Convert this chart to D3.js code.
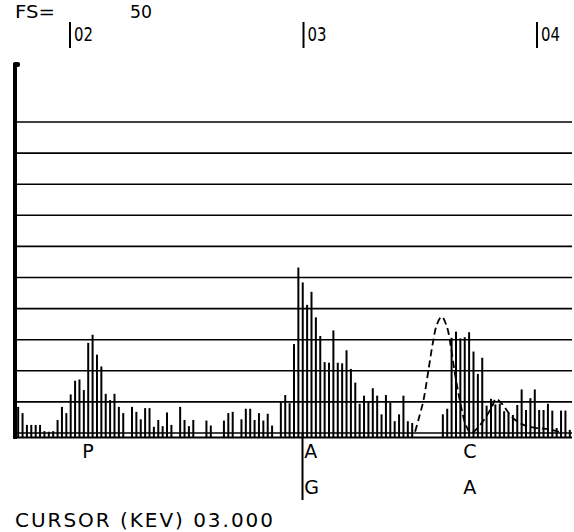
<!DOCTYPE html>
<html>
<head>
<meta charset="utf-8">
<script src="https://cdn.jsdelivr.net/npm/d3@7"></script>
<style>
  body { margin: 0; background: #fff; }
  text { font-family: "DejaVu Sans", sans-serif; fill: #000; }
</style>
</head>
<body>
<script>
const width = 574;
const height = 532;

// full scale
const fullScale = 50;

// spectrum channels: first channel energy and keV per channel
const chStart = 1.778;
const chStep = 0.01875;
const counts = [
  4.2, 3.2, 1.3, 1.3, 1.3, 1.3, 0.3, 0.2, 0.3, 2.1,
  4.2, 3.2, 6.2, 8.4, 8.6, 6.9, 14.5, 15.8, 12.6, 10.7,
  6.3, 5.3, 6.3, 4.2, 3.2, 0, 4.2, 3.4, 2.2, 4.0,
  4.0, 1.0, 2.1, 1.1, 3.3, 1.3, 0, 4.2, 2.1, 1.1,
  2.1, 0, 0, 2.0, 1.2, 0, 0, 2.0, 3.2, 3.4,
  0, 2.2, 3.9, 3.9, 2.1, 3.2, 2.0, 3.1, 1.2, 0,
  5.0, 6.1, 4.8, 14.3, 26.6, 24.2, 20.6, 22.7, 18.6, 15.6,
  11.4, 11.3, 16.5, 11.3, 11.2, 13.3, 10.3, 8.1, 4.7, 6.0,
  5.0, 7.2, 6.0, 3.0, 6.1, 4.9, 1.9, 3.0, 6.0, 1.9,
  1.6, 0, 0, 0, 0, 0, 0, 3.0, 3.9, 15.3,
  16.3, 15.2, 15.4, 16.2, 13.1, 9.5, 12.1, 4.4, 5.5, 4.6,
  4.7, 3.5, 3.2, 2.9, 4.5, 7.0, 3.7, 5.6, 7.0, 3.7,
  3.7, 4.7, 3.6, 0.8, 3.6, 3.6, 0.5
];

// grid levels
const gridLevels = [5, 10, 15, 20, 25, 30, 35, 40, 45, 50];

// energy ticks (keV)
const tickKev = [2, 3, 4];
const tickLabels = ['02', '03', '04'];

// fitted (dashed) curve
const fitKev = [3.478, 3.492, 3.514, 3.535, 3.554, 3.571, 3.592, 3.614, 3.631, 3.647,
  3.661, 3.678, 3.695, 3.717, 3.750, 3.778, 3.807, 3.824, 3.850, 3.879,
  3.907, 3.950, 4.000, 4.052, 4.094];
const fitCounts = [0.2, 2.1, 5.3, 10.1, 14.5, 17.4, 18.7, 17.1, 13.9, 9.9,
  6.9, 3.7, 1.3, 0, 1.0, 2.4, 4.2, 5.5, 4.7, 3.2,
  2.1, 1.2, 0.8, 0.6, 0.2];

// element markers
const markerKev = [2.052, 3.003, 3.684];
const markerTop = ['P', 'A', 'C'];
const markerBottom = ['', 'G', 'A'];

const cursorKev = 3.0;
const cursorText = 'CURSOR (KEV) 03.000';

const x = d3.scaleLinear().domain([2, 4]).range([70, 537]);
const y = d3.scaleLinear().domain([0, fullScale]).range([433, 122]);

const svg = d3.select('body')
  .append('svg')
  .attr('width', width)
  .attr('height', height);

const left = 15;
const right = 572;

// grid lines
svg.selectAll('.grid')
  .data(gridLevels)
  .enter()
  .append('line')
  .attr('class', 'grid')
  .attr('x1', left)
  .attr('x2', right)
  .attr('y1', d => y(d))
  .attr('y2', d => y(d))
  .attr('stroke', '#000')
  .attr('stroke-width', 1.6);

// double baseline
svg.append('line')
  .attr('x1', left).attr('x2', right)
  .attr('y1', y(0)).attr('y2', y(0))
  .attr('stroke', '#000').attr('stroke-width', 1.5);
svg.append('line')
  .attr('x1', left).attr('x2', right)
  .attr('y1', y(0) + 4.5).attr('y2', y(0) + 4.5)
  .attr('stroke', '#000').attr('stroke-width', 2);

// bars
const chans = counts.map((c, i) => ({ kev: chStart + i * chStep, c }))
  .filter(d => d.c > 0);

svg.selectAll('.bar')
  .data(chans)
  .enter()
  .append('line')
  .attr('class', 'bar')
  .attr('x1', d => x(d.kev))
  .attr('x2', d => x(d.kev))
  .attr('y1', y(0) + 5)
  .attr('y2', d => y(d.c))
  .attr('stroke', '#000')
  .attr('stroke-width', 2);

// left axis
svg.append('line')
  .attr('x1', left).attr('x2', left)
  .attr('y1', 63).attr('y2', y(0) + 6)
  .attr('stroke', '#000')
  .attr('stroke-width', 4);
svg.append('rect')
  .attr('x', left - 2).attr('y', 62)
  .attr('width', 7).attr('height', 5)
  .attr('rx', 2)
  .attr('fill', '#000');

// dashed fit
const fitLine = d3.line()
  .x(d => x(d[0]))
  .y(d => y(d[1]))
  .curve(d3.curveCatmullRom);

svg.append('path')
  .attr('d', fitLine(fitKev.map((k, i) => [k, fitCounts[i]])))
  .attr('fill', 'none')
  .attr('stroke', '#000')
  .attr('stroke-width', 1.8)
  .attr('stroke-dasharray', '7,4');

// header
svg.append('text')
  .attr('x', 15).attr('y', 18)
  .attr('font-size', 17)
  .attr('textLength', 40)
  .attr('lengthAdjust', 'spacingAndGlyphs')
  .text('FS=');
svg.append('text')
  .attr('x', 130).attr('y', 18)
  .attr('font-size', 17)
  .attr('textLength', 22)
  .attr('lengthAdjust', 'spacingAndGlyphs')
  .text(fullScale);

// energy ticks
svg.selectAll('.tick')
  .data(tickKev)
  .enter()
  .append('line')
  .attr('class', 'tick')
  .attr('x1', d => x(d))
  .attr('x2', d => x(d))
  .attr('y1', 22)
  .attr('y2', 48)
  .attr('stroke', '#000')
  .attr('stroke-width', 2);

svg.selectAll('.tick-label')
  .data(tickKev)
  .enter()
  .append('text')
  .attr('class', 'tick-label')
  .attr('x', d => x(d) + 4)
  .attr('y', 41)
  .attr('font-size', 19)
  .attr('textLength', 19)
  .attr('lengthAdjust', 'spacingAndGlyphs')
  .text((d, i) => tickLabels[i]);

// cursor
svg.append('line')
  .attr('x1', x(cursorKev) - 1).attr('x2', x(cursorKev) - 1)
  .attr('y1', y(0)).attr('y2', 500)
  .attr('stroke', '#000')
  .attr('stroke-width', 2);

// element markers
svg.selectAll('.mk-top')
  .data(markerKev)
  .enter()
  .append('text')
  .attr('class', 'mk-top')
  .attr('x', d => x(d))
  .attr('y', 458)
  .attr('font-size', 19)
  .text((d, i) => markerTop[i]);

svg.selectAll('.mk-bot')
  .data(markerKev)
  .enter()
  .append('text')
  .attr('class', 'mk-bot')
  .attr('x', d => x(d))
  .attr('y', 494)
  .attr('font-size', 19)
  .text((d, i) => markerBottom[i]);

// cursor readout
svg.append('text')
  .attr('x', 15).attr('y', 527)
  .attr('font-size', 20)
  .attr('textLength', 258)
  .text(cursorText);
</script>
</body>
</html>
